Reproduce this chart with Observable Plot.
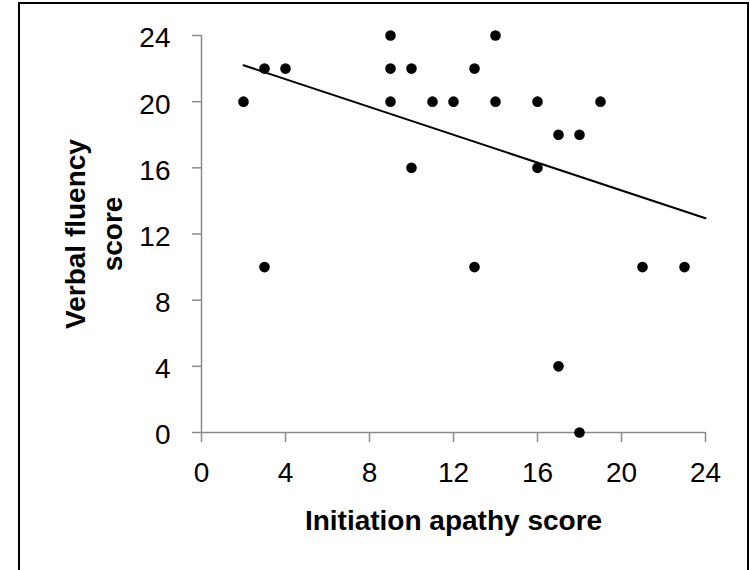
<!DOCTYPE html>
<html>
<head>
<meta charset="utf-8">
<script src="https://cdn.jsdelivr.net/npm/d3@7"></script>
<script src="https://cdn.jsdelivr.net/npm/@observablehq/plot@0.6"></script>
<style>
  html, body { margin: 0; padding: 0; background: #fff; }
  #wrap { position: relative; width: 750px; height: 570px; overflow: hidden; }
  #border { position: absolute; left: 18px; top: 2px; width: 731px; height: 620px; box-sizing: border-box; border: 2px solid #000; pointer-events: none; }
  #chart { position: absolute; left: 0; top: 0; }
</style>
</head>
<body>
<div id="wrap"><div id="chart"></div><div id="border"></div></div>
<script>
// Data
const apathyScore = [2, 3, 3, 4, 9, 9, 9, 10, 10, 11, 12, 13, 13, 14, 14, 16, 16, 17, 17, 18, 18, 19, 21, 23];
const fluencyScore = [20, 22, 10, 22, 24, 22, 20, 22, 16, 20, 20, 22, 10, 24, 20, 20, 16, 18, 4, 18, 0, 20, 10, 10];
// Linear trendline endpoints as drawn in the reference
const trendX = [2, 24];
const trendY = [22.2, 12.95];
const xTicks = [0, 4, 8, 12, 16, 20, 24];
const yTicks = [0, 4, 8, 12, 16, 20, 24];
const xTitle = "Initiation apathy score";
const yTitle = "Verbal fluency\nscore";

const points = apathyScore.map((x, i) => ({x, y: fluencyScore[i]}));
const trend = trendX.map((x, i) => ({x, y: trendY[i]}));

const font = "'Liberation Sans', Arial, sans-serif";
const axisColor = "#8a8a8a";

const chart = Plot.plot({
  width: 750,
  height: 570,
  marginLeft: 201,
  marginRight: 45,
  marginTop: 35,
  marginBottom: 138,
  style: { fontFamily: font, fontSize: "28px", color: "#000", background: "transparent" },
  x: { domain: [0, 24] },
  y: { domain: [0, 24] },
  marks: [
    Plot.ruleX([0], { stroke: axisColor, strokeWidth: 1.5 }),
    Plot.ruleY([0], { stroke: axisColor, strokeWidth: 1.5 }),
    Plot.axisX({ ticks: xTicks, tickSize: 10, tickPadding: 20, stroke: axisColor, strokeWidth: 1.5, fill: "#000", fontSize: 28, label: null, tickFormat: d => String(d) }),
    Plot.axisY({ ticks: yTicks, tickSize: 9, stroke: axisColor, strokeWidth: 1.5, label: null, tickFormat: () => "" }),
    Plot.axisY({ ticks: yTicks, tickSize: 0, tickPadding: 31, stroke: "none", fill: "#000", fontSize: 28, label: null, dy: 3, tickFormat: d => String(d) }),
    Plot.line(trend, { x: "x", y: "y", stroke: "#000", strokeWidth: 2 }),
    Plot.dot(points, { x: "x", y: "y", r: 5.3, fill: "#000", stroke: "none" }),
    Plot.text([xTitle], { frameAnchor: "bottom", lineAnchor: "bottom", dy: 97, fontWeight: "bold", fontSize: 28, fill: "#000" }),
    Plot.text([yTitle], { frameAnchor: "left", rotate: -90, lineAnchor: "middle", lineHeight: 1.35, dx: -110, fontWeight: "bold", fontSize: 28, fill: "#000", textAnchor: "middle" })
  ]
});
document.getElementById("chart").appendChild(chart);
</script>
</body>
</html>
